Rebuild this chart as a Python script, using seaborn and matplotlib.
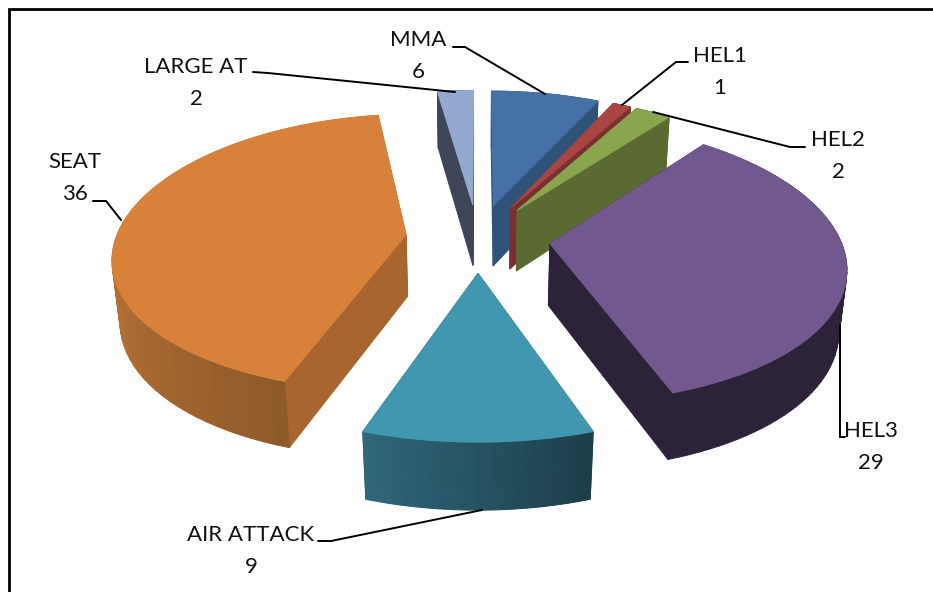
import matplotlib
matplotlib.use('Agg')

import matplotlib.pyplot as plt
from matplotlib.transforms import Transform
import seaborn as sns
import numpy as np

categories = ['MMA', 'HEL1', 'HEL2', 'HEL3', 'AIR ATTACK', 'SEAT', 'LARGE AT']
values = [6, 1, 2, 29, 9, 36, 2]

top_colors = ['#4571A6', '#A94643', '#89A54E', '#71588F', '#4197AF', '#D8813B', '#93A9CF']
side_left = ['#30537A', '#7A3030', '#5B6A32', '#2D2339', '#2F6779', '#C47A38', '#3E4559']
side_right = ['#30537A', '#7A3030', '#5B6A32', '#2D2339', '#1C3E4A', '#8F5A2A', '#3E4559']
cut_colors = ['#30537A', '#7A3030', '#5B6A32', '#2D2339', '#2F6779', '#A8652F', '#3E4559']

# label text position, then leader line
label_pos = [(418, 40), (720, 56), (838, 140), (871, 431), (251, 535), (75, 162), (196, 67)]
leaders = [
    [(453, 47), (465, 47), (545, 94)],
    [(688, 62), (676, 62), (622, 105)],
    [(653, 112), (790, 147), (805, 147)],
    [(840, 325), (840, 437), (845, 437)],
    [(318, 541), (331, 541), (482, 510)],
    [(93, 201), (106, 201), (121, 220)],
    [(253, 72), (268, 73), (455, 92)],
]

CX, CY = 478, 238
RX, RY = 290, 137
KX, KY = 0.149, 0.129
KZ = 0.022
THICK = 63
EXPLODE = 0.25


def project(x, y, z=0.0):
    x, y = np.asarray(x, float), np.asarray(y, float)
    fx = 1.0 / (1.0 + KX * y + KZ * z)
    fy = 1.0 / (1.0 + KY * y + KZ * z)
    return CX + RX * x * fx, CY - RY * y * fy + THICK * z * fy


class TopPlane(Transform):
    input_dims = 2
    output_dims = 2
    is_affine = False

    def transform_non_affine(self, values):
        values = np.asarray(values, float)
        sx, sy = project(values[:, 0], values[:, 1])
        return np.column_stack([sx, sy])


sns.set_theme(style='white')
plt.rcParams['font.family'] = ['Lato', 'DejaVu Sans']

fig = plt.figure(figsize=(9.33, 5.92), dpi=100)
ax = fig.add_axes([0, 0, 1, 1])

wedges, _ = ax.pie(values, explode=[EXPLODE] * len(values), colors=sns.color_palette(top_colors),
                   startangle=90, counterclock=False, radius=1)
ax.set_aspect('auto')
ax.set_xlim(0, 933)
ax.set_ylim(592, 0)
top_tr = TopPlane() + ax.transData


def wall(ax, x, y, color, zorder):
    # quad from the top edge down to the bottom edge
    sx0, sy0 = project(x, y, 0)
    sx1, sy1 = project(x[::-1], y[::-1], 1)
    ax.fill(np.r_[sx0, sx1], np.r_[sy0, sy1], color=color, lw=0.7, zorder=zorder)


# back slices first, then seat / hel3 / air attack in front
order = [6, 0, 1, 2, 5, 3, 4]
for rank, i in enumerate(order):
    w = wedges[i]
    cx, cy = w.center
    t1, t2 = np.radians(w.theta1), np.radians(w.theta2)
    zbase = 10 + rank * 3

    # straight cuts
    for t in (t1, t2):
        wall(ax, np.array([cx, cx + np.cos(t)]), np.array([cy, cy + np.sin(t)]), cut_colors[i], zbase)

    # rim, shaded along the arc (only the lower half of the seat rim shows)
    n = 60
    ts = np.linspace(t1, t2, n + 1)
    xs, ys = cx + np.cos(ts), cy + np.sin(ts)
    stops = [side_left[i], side_right[i]]
    if categories[i] == 'SEAT':
        stops = [side_left[i]] + stops
    shades = sns.blend_palette(stops, n)
    for j in range(n):
        wall(ax, xs[j:j + 2], ys[j:j + 2], shades[j], zbase + 1)

    w.set_transform(top_tr)
    w.set_zorder(zbase + 2)
    w.set_edgecolor(top_colors[i])
    w.set_linewidth(0.7)

for name, val, (tx, ty), line in zip(categories, values, label_pos, leaders):
    ax.text(tx, ty, name, ha='center', va='center', fontsize=16, color='#111111', zorder=50)
    ax.text(tx, ty + 32, str(val), ha='center', va='center', fontsize=16, color='#111111', zorder=50)
    ax.plot(*zip(*line), color='black', lw=1.4, zorder=40, solid_joinstyle='miter')

# chart frame runs off the right and bottom of the crop
ax.plot([9, 9, 933], [592, 9, 9], color='black', lw=2, zorder=60, solid_joinstyle='miter')

fig.savefig('out.png', dpi=100, facecolor='white')
